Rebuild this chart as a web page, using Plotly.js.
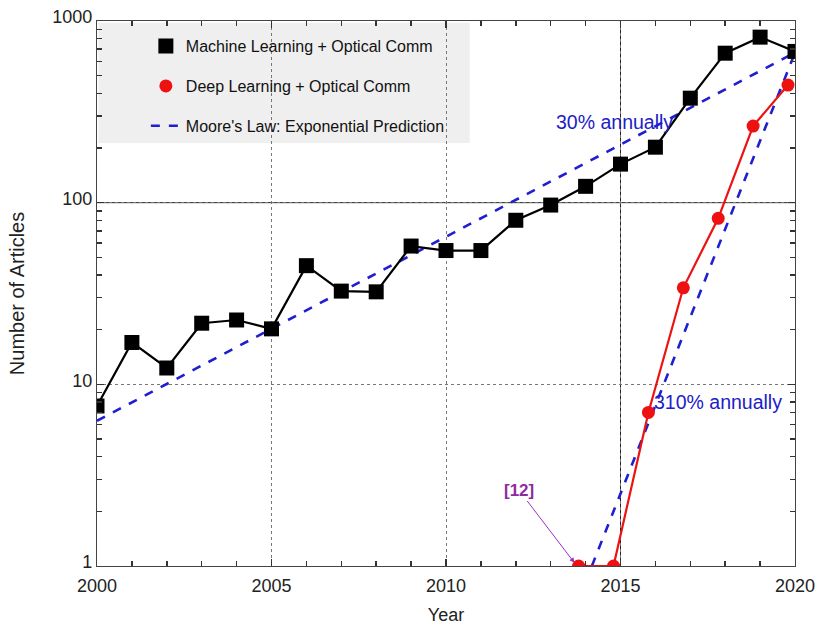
<!DOCTYPE html>
<html><head><meta charset="utf-8">
<script src="https://cdn.plot.ly/plotly-3.0.1.min.js"></script>
<style>body{margin:0;background:#fff}#chart{width:820px;height:625px}</style>
</head><body><div id="chart"></div>
<script>
const mlYears = [2000,2001,2002,2003,2004,2005,2006,2007,2008,2009,2010,2011,2012,2013,2014,2015,2016,2017,2018,2019,2020];
const mlCounts = [7.6,17,12.3,21.7,22.6,20.2,45,32.6,32.3,57.7,54.5,54.5,80,97,123,163,202,376,665,815,680];
const dlYears = [2013.8,2014.8,2015.8,2016.8,2017.8,2018.8,2019.8];
const dlCounts = [1,1,7,34,82,264,444];
const mooreYears = [2000,2020,null,2014.18,2020];
const mooreCounts = [6.3,670,null,1,670];
const xStart = 2000, xEnd = 2020, xStep = 5;
const yMinorTicks = [2,3,4,5,6,7,8,9,20,30,40,50,60,70,80,90,200,300,400,500,600,700,800,900];

const traces = [
  {x: mooreYears, y: mooreCounts, mode:'lines', name:"Moore's Law: Exponential Prediction",
   line:{color:'#1f1fd0', width:2.6, dash:'dash'}, legendgroup:'c', legendrank:3, connectgaps:false},
  {x: mlYears, y: mlCounts, mode:'lines', showlegend:false, line:{color:'#000', width:2.2}},
  {x: dlYears, y: dlCounts, mode:'lines', showlegend:false, line:{color:'#ee1111', width:2.2}},
  {x: mlYears, y: mlCounts, mode:'markers', name:'Machine Learning + Optical Comm', legendgroup:'a', legendrank:1,
   marker:{symbol:'square', size:15, color:'#000'}},
  {x: dlYears, y: dlCounts, mode:'markers', name:'Deep Learning + Optical Comm', legendgroup:'b', legendrank:2,
   marker:{symbol:'circle', size:13, color:'#ee1111'}}
];

const layout = {
  width:820, height:625,
  margin:{l:97, r:25, t:21, b:59},
  font:{family:'Liberation Sans, Arial, sans-serif', color:'#222'},
  showlegend:true,
  legend:{x:0.07, y:0.985, xanchor:'left', yanchor:'top', bgcolor:'rgba(0,0,0,0)',
          font:{size:16, color:'#111'}, tracegroupgap:16, traceorder:'grouped'},
  xaxis:{range:[xStart,xEnd], dtick:xStep, ticks:'inside', ticklen:7, tickwidth:1.5, tickcolor:'#333',
         showline:true, linecolor:'#444', linewidth:1.2, mirror:'allticks',
         showgrid:true, gridcolor:'#777', griddash:'dot', gridwidth:1, zeroline:false,
         tickfont:{size:18, color:'#222'}, ticklabelstandoff:3,
         minor:{dtick:1, ticks:'inside', ticklen:5, tickwidth:1.5, tickcolor:'#333'},
         title:{text:'Year', font:{size:18, color:'#222'}, standoff:17}},
  yaxis:{type:'log', range:[0,3], dtick:1, ticks:'inside', ticklen:7, tickwidth:1.5, tickcolor:'#333',
         showline:true, linecolor:'#444', linewidth:1.2, mirror:'allticks',
         showgrid:true, gridcolor:'#777', griddash:'dot', gridwidth:1, zeroline:false,
         tickfont:{size:18, color:'#222'}, ticklabelshift:-4,
         minor:{tickmode:'array', tickvals:yMinorTicks, ticks:'inside', ticklen:5, tickwidth:1.5, tickcolor:'#333'},
         title:{text:'Number of Articles', font:{size:20, color:'#222'}, standoff:22}},
  shapes:[
    {type:'rect', xref:'paper', yref:'paper', x0:0.002, x1:0.534, y0:0.776, y1:0.997,
     fillcolor:'#efefef', line:{width:0}, layer:'below'},
    {type:'line', xref:'x', yref:'paper', x0:2015, x1:2015, y0:0, y1:1, line:{color:'#222', width:1}, layer:'below'},
    {type:'line', xref:'paper', yref:'y', x0:0, x1:1, y0:100, y1:100, line:{color:'#222', width:1}, layer:'below'}
  ],
  annotations:[
    {x:2014.82, y:Math.log10(277), xref:'x', yref:'y', text:'30% annually', showarrow:false,
     font:{size:19.5, color:'#2020c8'}},
    {x:2017.8, y:Math.log10(8), xref:'x', yref:'y', text:'310% annually', showarrow:false,
     font:{size:19.5, color:'#2020c8'}},
    {x:2013.75, y:0, xref:'x', yref:'y', text:'<b>[12]</b>', showarrow:true, arrowhead:2, arrowsize:1, arrowwidth:1,
     arrowcolor:'#9b30c0', ax:-58, ay:-76, font:{size:17, color:'#8e2b9e', family:'Liberation Sans Narrow, Arial, sans-serif'}, standoff:4}
  ]
};
Plotly.newPlot('chart', traces, layout, {displayModeBar:false, staticPlot:true});
</script></body></html>
